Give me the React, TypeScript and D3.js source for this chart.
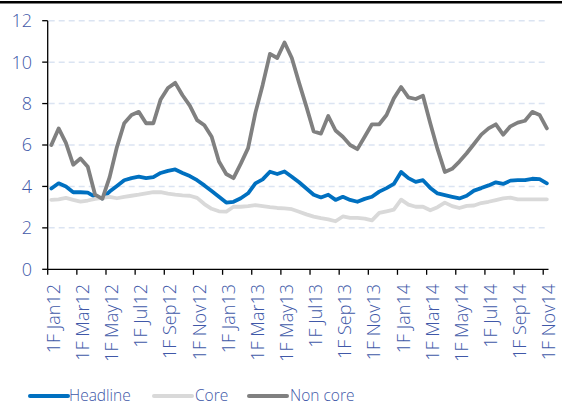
import React from 'react';
import * as d3 from 'd3';

// fortnightly readings, 1F Jan12 .. 1F Nov14
const headline = [
  3.9, 4.15, 4.0, 3.72, 3.72, 3.7, 3.5, 3.42, 3.75, 4.02,
  4.3, 4.4, 4.47, 4.4, 4.45, 4.65, 4.75, 4.82, 4.65, 4.5,
  4.3, 4.05, 3.78, 3.5, 3.22, 3.26, 3.43, 3.67, 4.15, 4.34,
  4.71, 4.6, 4.72, 4.47, 4.2, 3.9, 3.6, 3.47, 3.6, 3.35,
  3.5, 3.35, 3.26, 3.4, 3.5, 3.75, 3.92, 4.12, 4.7, 4.4,
  4.22, 4.3, 3.93, 3.66, 3.58, 3.5, 3.42, 3.55, 3.8, 3.92,
  4.05, 4.2, 4.12, 4.28, 4.3, 4.3, 4.37, 4.35, 4.15
];

const core = [
  3.35, 3.38, 3.45, 3.35, 3.27, 3.32, 3.4, 3.45, 3.5, 3.43,
  3.5, 3.55, 3.6, 3.67, 3.73, 3.72, 3.65, 3.6, 3.57, 3.55,
  3.45, 3.15, 2.92, 2.8, 2.78, 3.02, 3.02, 3.05, 3.1, 3.05,
  3.0, 2.96, 2.94, 2.9, 2.78, 2.65, 2.54, 2.47, 2.41, 2.32,
  2.55, 2.48, 2.48, 2.45, 2.36, 2.72, 2.8, 2.88, 3.36, 3.12,
  3.02, 3.02, 2.85, 3.0, 3.22, 3.05, 2.96, 3.06, 3.08, 3.2,
  3.26, 3.34, 3.42, 3.46, 3.38, 3.38, 3.38, 3.38, 3.38
];

const nonCore = [
  6.0, 6.8, 6.1, 5.05, 5.35, 4.95, 3.6, 3.4, 4.45, 5.9,
  7.05, 7.45, 7.6, 7.05, 7.05, 8.2, 8.75, 9.0, 8.4, 7.9,
  7.2, 6.95, 6.4, 5.2, 4.6, 4.4, 5.1, 5.85, 7.55, 8.9,
  10.4, 10.2, 10.95, 10.2, 9.0, 7.85, 6.65, 6.55, 7.4, 6.7,
  6.4, 6.0, 5.8, 6.4, 7.0, 7.0, 7.45, 8.25, 8.8, 8.3,
  8.22, 8.38, 7.05, 5.8, 4.7, 4.85, 5.2, 5.6, 6.05, 6.5,
  6.8, 7.0, 6.5, 6.9, 7.08, 7.17, 7.6, 7.45, 6.8
];

const tickLabels = [
  '1F Jan12', '1F Mar12', '1F May12', '1F Jul12', '1F Sep12', '1F Nov12',
  '1F Jan13', '1F Mar13', '1F May13', '1F Jul13', '1F Sep13', '1F Nov13',
  '1F Jan14', '1F Mar14', '1F May14', '1F Jul14', '1F Sep14', '1F Nov14'
];

const yTicks = [0, 2, 4, 6, 8, 10, 12];

const monthNames = ['Jan', 'Feb', 'Mar', 'Apr', 'May', 'Jun', 'Jul', 'Aug', 'Sep', 'Oct', 'Nov', 'Dec'];
const categories: string[] = [];
['12', '13', '14'].forEach(yr => {
  monthNames.forEach(m => {
    categories.push(`1F ${m}${yr}`);
    categories.push(`2F ${m}${yr}`);
  });
});
const cats = categories.slice(0, headline.length);

const series = [
  { name: 'Headline', values: headline, color: '#0070c0' },
  { name: 'Core', values: core, color: '#d9d9d9' },
  { name: 'Non core', values: nonCore, color: '#808080' }
];

const W = 562;
const H = 406;
const labelColor = '#4058a8';
const font = '"Open Sans", "DejaVu Sans", sans-serif';

export default function App() {
  const x = d3.scaleBand<string>()
    .domain(cats)
    .range([47.7, 550.5])
    .paddingInner(0)
    .paddingOuter(0);
  const bw = x.bandwidth();
  const y = d3.scaleLinear().domain([0, 12]).range([269.3, 20.7]);

  const line = d3.line<number>()
    .x((_, i) => (x(cats[i]) as number) + bw / 2)
    .y(d => y(d));

  const x0 = x.range()[0];
  const x1 = x.range()[1];

  return (
    <svg width={W} height={H} style={{ position: 'absolute', left: 0, top: 0, background: '#fff' }}
      fontFamily={font}>
      {/* top rule */}
      <rect x={0} y={1} width={W} height={2.5} fill="#000" />

      {/* grid */}
      {yTicks.filter(t => t > 0).map(t => (
        <line key={'g' + t} x1={x0 + 1} x2={x1 - 3} y1={y(t)} y2={y(t)}
          stroke="#dbe4f2" strokeWidth={1.5} strokeDasharray="6,4" />
      ))}

      {/* y axis */}
      <line x1={x0} x2={x0} y1={y(12)} y2={y(0)} stroke="#000" strokeWidth={1.3} />
      {yTicks.map(t => (
        <g key={'y' + t}>
          <line x1={x0 - 5.5} x2={x0} y1={y(t)} y2={y(t)} stroke="#000" strokeWidth={1.3} />
          <text x={32} y={y(t)} dy="0.36em" textAnchor="end" fontSize={18} fontWeight={300}
            fill={labelColor}>{t}</text>
        </g>
      ))}

      {/* x axis */}
      <line x1={x0} x2={x1 - 2} y1={y(0)} y2={y(0)} stroke="#000" strokeWidth={1.3} />
      {tickLabels.map(lbl => {
        const px = x(lbl) as number;
        return (
          <g key={lbl}>
            <line x1={px} x2={px} y1={y(0)} y2={y(0) + 5.5} stroke="#000" strokeWidth={1.3} />
            <text transform={`translate(${px + bw / 2 + 2},284) rotate(-90)`} dy="0.36em"
              textAnchor="end" fontSize={18} fontWeight={300} fill={labelColor}>{lbl}</text>
          </g>
        );
      })}

      {/* series */}
      {series.map(s => (
        <path key={s.name} d={line(s.values) || ''} fill="none" stroke={s.color}
          strokeWidth={3.8} strokeLinejoin="round" strokeLinecap="round" />
      ))}

      {/* legend */}
      {[
        { s: series[0], lx: 30, tx: 69 },
        { s: series[1], lx: 154, tx: 195 },
        { s: series[2], lx: 249, tx: 290 }
      ].map(({ s, lx, tx }) => (
        <g key={'l' + s.name}>
          <line x1={lx} x2={lx + 38} y1={396} y2={396} stroke={s.color} strokeWidth={4} strokeLinecap="round" />
          <text x={tx} y={401} fontSize={15.5} fontWeight={300} fill={labelColor}>{s.name}</text>
        </g>
      ))}
    </svg>
  );
}
